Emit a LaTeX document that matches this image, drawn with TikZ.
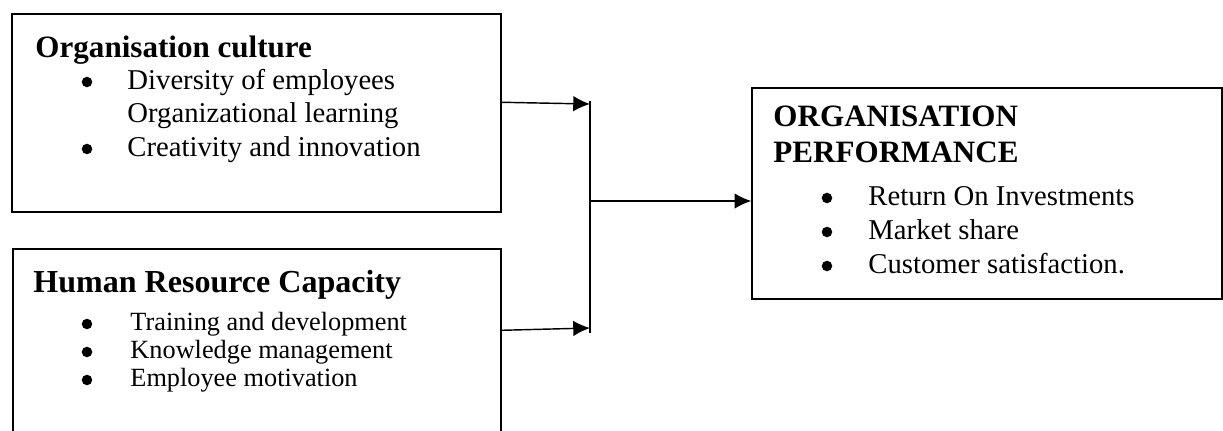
\documentclass[tikz,border=0pt]{standalone}
\usepackage{fontspec}
\setmainfont{Liberation Serif}
\usetikzlibrary{arrows.meta,fit,calc}

\begin{document}
\begin{tikzpicture}[x=.4184pt,y=-.4184pt,>={Latex[length=7pt,width=6.5pt]},
	box/.style={draw,line width=.6pt,inner sep=0},
	titre/.style={inner sep=0,anchor=base west,font=\fontsize{13}{15}\selectfont\bfseries},
	item/.style={inner sep=0,anchor=base west,font=\fontsize{12}{14}\selectfont},
	puce/.style={circle,fill,inner sep=0,minimum size=4.4pt}]
	\useasboundingbox (0,0) rectangle (1223,430);
	\clip (0,0) rectangle (1223,430);

	% boites
	\node[box,fit={(12,14) (501,212)}] (culture) {};
	\node[box,fit={(13,249) (501,470)}] (hrc) {};
	\node[box,fit={(752,88) (1222,299)}] (perf) {};

	% culture
	\node[titre] (tc) at (35,57) {Organisation culture};
	\foreach \y/\t [count=\i] in {89/Diversity of employees,122/Organizational learning,156/Creativity and innovation} {
		\node[item] (c\i) at (127,\y) {\t};
	}
	\node[puce] (pc1) at (87,82) {};
	\node[puce] (pc3) at (87,149) {};

	% capacite
	\node[titre,font=\fontsize{13.4}{15}\selectfont\bfseries] (th) at (33,292) {Human Resource Capacity};
	\foreach \y/\t [count=\i] in {330/Training and development,358/Knowledge management,386/Employee motivation} {
		\node[item,font=\fontsize{11}{13}\selectfont] (h\i) at (130,\y) {\t};
		\node[puce] (ph\i) at (87,\y-6) {};
	}

	% performance
	\node[titre] (tp1) at (773,126) {ORGANISATION};
	\node[titre] (tp2) at (773,162) {PERFORMANCE};
	\foreach \y/\t [count=\i] in {205/Return On Investments,239/Market share,273/Customer satisfaction.} {
		\node[item] (p\i) at (868,\y) {\t};
		\node[puce] (pp\i) at (827,\y-7) {};
	}

	% fleches
	\coordinate (jh) at (590,101);
	\coordinate (jb) at (590,333);
	\coordinate (jm) at (590,201);
	\coordinate (ah) at (590,104);
	\coordinate (ab) at (590,328);
	\draw[line width=.6pt] (jh) -- (jb);
	\draw[->,line width=.6pt] ($(culture.north east)+(0,89)$) -- (ah);
	\draw[->,line width=.6pt] ($(hrc.north east)+(0,82)$) -- (ab);
	\draw[->,line width=.6pt] (jm) -- (jm -| perf.west);

\end{tikzpicture}
\end{document}
